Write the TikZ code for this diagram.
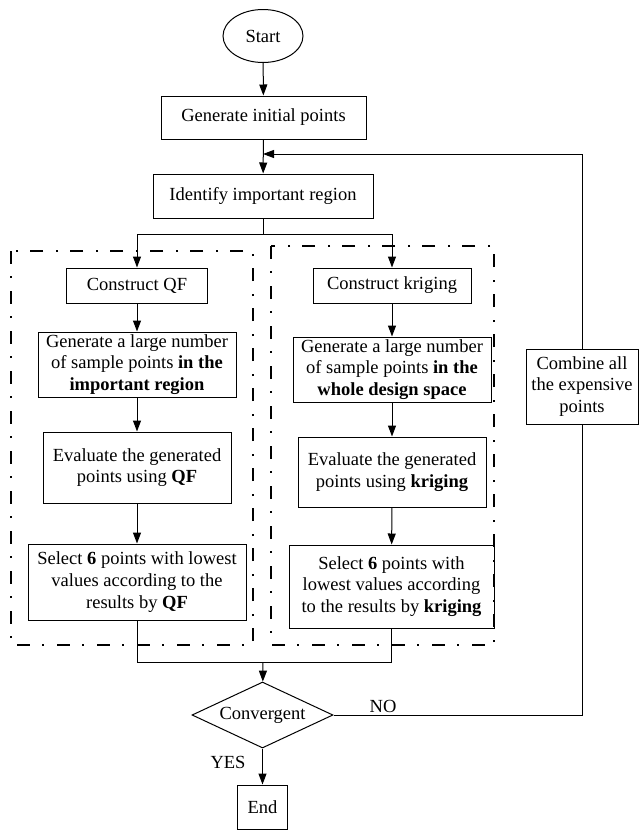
\documentclass[tikz,border=0pt]{standalone}
\usepackage{fontspec}
\setmainfont{Liberation Serif}
\usetikzlibrary{arrows.meta,shapes.geometric}
\begin{document}
\begin{tikzpicture}[x=1pt,y=-1pt,
  every node/.style={font=\fontsize{18.5}{21.7}\selectfont},
  box/.style={draw,line width=1pt,align=center,inner sep=1pt},
  arr/.style={line width=1pt,-{Triangle[length=11pt,width=8pt]}},
  ln/.style={line width=1pt},
  dashbox/.style={line width=2pt,dash pattern=on 13pt off 12pt on 2pt off 13pt}]
\useasboundingbox (0,0) rectangle (638,830);
% main nodes
\node[draw,line width=1pt,ellipse,minimum width=80pt,minimum height=53pt,inner sep=0pt] (start) at (263,36) {Start};
\node[box,minimum width=205pt,minimum height=43pt] (gen) at (263.5,117.5) {Generate initial points};
\node[box,minimum width=220pt,minimum height=44pt] (ident) at (263,196) {Identify important region};
% QF column
\node[box,minimum width=141pt,minimum height=35pt] (qf1) at (137,285.5) {Construct QF};
\node[box,minimum width=198pt,minimum height=65pt] (qf2) at (137,364.5) {Generate a large number\\of sample points \textbf{in the}\\\textbf{important region}};
\node[box,minimum width=188pt,minimum height=71pt] (qf3) at (137,467.5) {Evaluate the generated\\points using \textbf{QF}};
\node[box,minimum width=218pt,minimum height=76pt] (qf4) at (137,582) {Select \textbf{6} points with lowest\\values according to the\\results by \textbf{QF}};
% kriging column
\node[box,minimum width=158pt,minimum height=35pt] (kr1) at (392,285.5) {Construct kriging};
\node[box,minimum width=198pt,minimum height=65pt] (kr2) at (392,369.5) {Generate a large number\\of sample points \textbf{in the}\\\textbf{whole design space}};
\node[box,minimum width=188pt,minimum height=70pt] (kr3) at (392,472) {Evaluate the generated\\points using \textbf{kriging}};
\node[box,minimum width=205pt,minimum height=83pt] (kr4) at (391.5,586.5) {Select \textbf{6} points with\\lowest values according\\to the results by \textbf{kriging}};
% combine
\node[box,minimum width=112pt,minimum height=75pt] (comb) at (582,386.5) {Combine all\\the expensive\\points};
% decision and end
\node[draw,line width=1pt,diamond,aspect=2.14,minimum width=141pt,minimum height=66pt,inner sep=0pt] (conv) at (262.5,715) {Convergent};
\node[box,minimum width=50pt,minimum height=44pt] (end) at (262.5,807) {End};
% dashed groups
\draw[dashbox] (11,251) rectangle (253,645);
\draw[dashbox] (271,246) rectangle (494,645);
% coordinates
\coordinate (loopin) at (263,154);
\coordinate (sp) at (263,234);
\coordinate (mg) at (263,662);
% connectors
\draw[arr] (start) -- (gen);
\draw[arr] (gen) -- (ident);
\draw[ln] (ident) -- (sp);
\draw[arr] (sp) -| (qf1);
\draw[arr] (sp) -| (kr1);
\draw[arr] (qf1) -- (qf2);
\draw[arr] (qf2) -- (qf3);
\draw[arr] (qf3) -- (qf4);
\draw[arr] (kr1) -- (kr2);
\draw[arr] (kr2) -- (kr3);
\draw[arr] (kr3) -- (kr4);
\draw[ln] (qf4) |- (mg);
\draw[ln] (kr4) |- (mg);
\draw[arr] (mg) -- (conv);
\draw[arr] (conv) -- (end);
\draw[ln] (conv.east) -| (comb.south);
\draw[arr] (comb.north) |- (loopin);
% labels
\node (no) at (383,706) {NO};
\node (yes) at (228,762) {YES};
\end{tikzpicture}
\end{document}
